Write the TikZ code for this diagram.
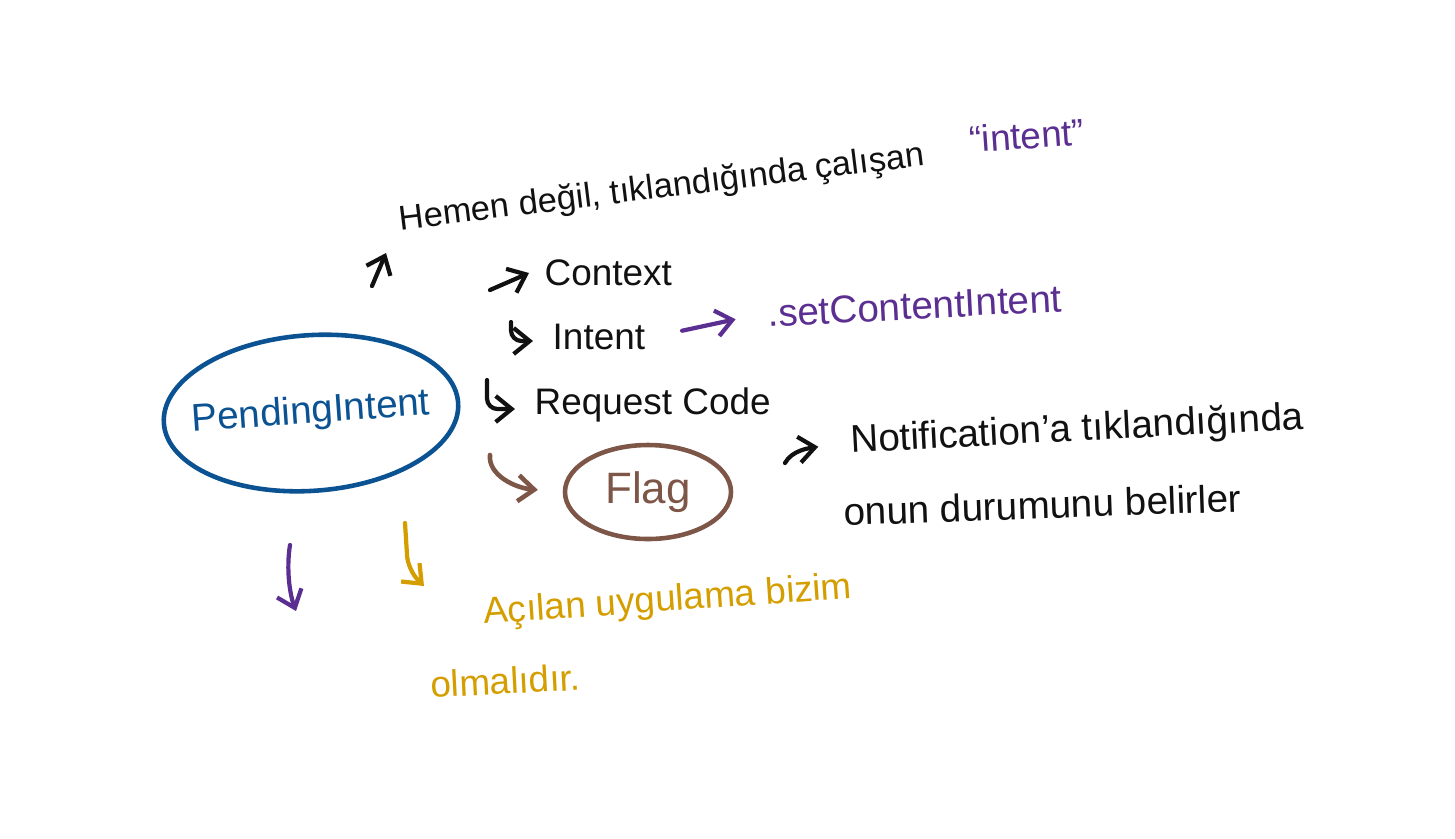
\documentclass[tikz,border=0pt]{standalone}
\usepackage{fontspec}
\setmainfont{Liberation Sans}
\usetikzlibrary{positioning,arrows.meta,shapes.geometric,calc}
\definecolor{penblack}{HTML}{111111}
\definecolor{penblue}{HTML}{0A5291}
\definecolor{penpurple}{HTML}{5B2E91}
\definecolor{penbrown}{HTML}{7D5648}
\definecolor{pengold}{HTML}{D49E00}
\begin{document}
\begin{tikzpicture}[
  x=0.1mm,y=-0.1mm,
  font=\fontsize{10.5}{13}\selectfont,
  word/.style={anchor=west,inner sep=2pt,text=penblack},
  loop/.style={draw,ellipse,line width=1.3pt},
  tip/.style={-{Straight Barb[length=1.6mm,width=2.6mm]},line width=1.2pt,line cap=round,penblack}]
\useasboundingbox (0,0) rectangle (1455,838);
% the object and its parts
\node[loop,draw=penblue,text=penblue,inner xsep=-1.5mm,inner ysep=3.7mm,rotate=4,font=\fontsize{11}{13}\selectfont] (pending) at (311,413) {PendingIntent};
\node[word,rotate=7,font=\fontsize{9.8}{12}\selectfont] (hemen) at (392,222) {Hemen değil, tıklandığında çalışan};
\node[word,text=penpurple,rotate=4] (quoted) at (962,140) {“intent”};
\node[word] (context) at (537,273) {Context};
\node[word] (intent) at (545,337) {Intent};
\node[word] (reqcode) at (527,405) {Request Code};
\node[word,text=penpurple,rotate=3,font=\fontsize{11}{13}\selectfont] (setci) at (760,314) {.setContentIntent};
\node[loop,draw=penbrown,text=penbrown,inner sep=0pt,minimum width=16.6mm,minimum height=9.4mm,font=\fontsize{12.5}{15}\selectfont] (flag) at (648,492) {Flag};
\node[word,rotate=3,font=\fontsize{11}{13}\selectfont] (notifa) at (843,443) {Notification'a tıklandığında};
\node[word,rotate=2,font=\fontsize{11}{13}\selectfont] (notifb) at (836,512) {onun durumunu belirler};
\node[word,text=pengold,rotate=4] (acilan) at (476,615) {Açılan uygulama bizim};
\node[word,text=pengold,rotate=3] (olmali) at (423,685) {olmalıdır.};
% loose ends
\coordinate (upfoot) at (372,286);
\coordinate (uphead) at (386,253);
\coordinate (ctxtail) at (490,290);
\coordinate (inthook) at (511,322);
\coordinate (reqhook) at (487,380);
\coordinate (flagtail) at (490,455);
\coordinate (notiftail) at (785,463);
\coordinate (purptop) at (290,545);
\coordinate (purpend) at (296,611);
\coordinate (goldtop) at (405,523);
\coordinate (goldend) at (424,586);
\draw[tip] (upfoot) -- (uphead);
\draw[tip] (ctxtail) -- ([xshift=-0.8mm]context.west);
\draw[tip,rounded corners=3pt] (inthook) |- ([xshift=-1.2mm,yshift=-0.4mm]intent.west);
\draw[tip,rounded corners=3pt] (reqhook) |- ([xshift=-1.2mm,yshift=-0.4mm]reqcode.west);
\draw[tip,penpurple,shorten <=3mm,shorten >=2.5mm] (intent.east) -- (setci.west);
\draw[tip,penbrown,line width=1.3pt,shorten >=2.5mm] (flagtail) .. controls (488,475) and (515,488) .. (flag.west);
\draw[tip,shorten >=2.5mm] (notiftail) .. controls (792,450) and (810,448) .. (notifa.west);
\draw[tip,penpurple] (purptop) .. controls (286,570) and (290,595) .. (purpend);
\draw[tip,pengold,rounded corners=4pt] (goldtop) -- (408,570) -- (goldend);
\end{tikzpicture}
\end{document}
